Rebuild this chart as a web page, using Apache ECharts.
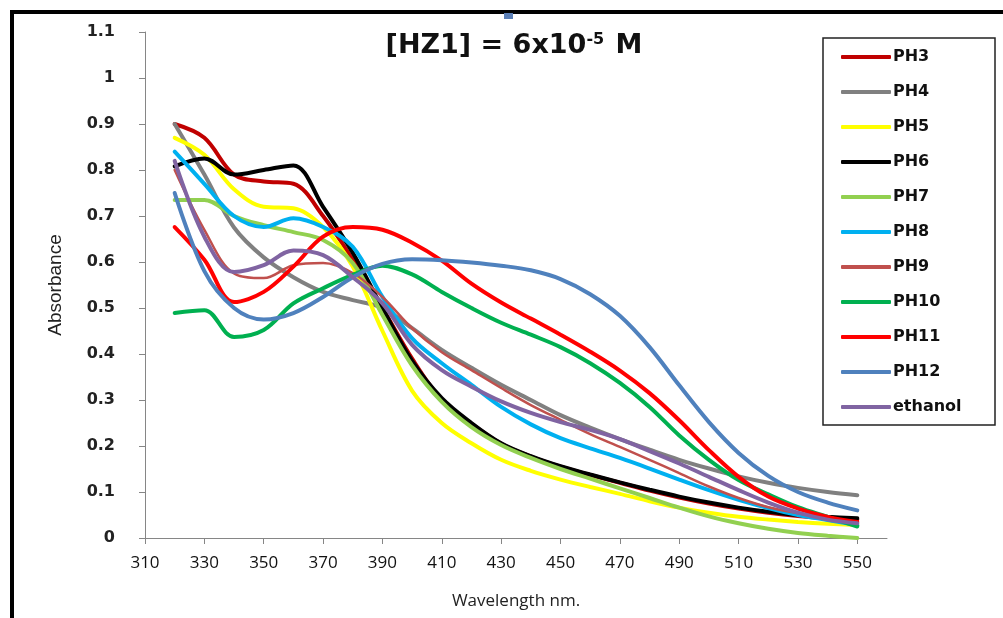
<!DOCTYPE html>
<html>
<head>
    <meta charset="utf-8">
    <title>HZ1 absorbance</title>
    <script src="https://cdn.jsdelivr.net/npm/echarts@6/dist/echarts.min.js"></script>
    <style>
        html, body { margin: 0; padding: 0; background: #fff; }
    </style>
</head>
<body>
    <div id="main" style="width: 1003px;height:618px;"></div>
    <script type="text/javascript">
        var myChart = echarts.init(document.getElementById('main'));

        // wavelengths (nm) where the curves are sampled
        var wavelength = [320, 330, 340, 350, 360, 370, 380, 390, 400, 410, 420, 430,
                          440, 450, 460, 470, 480, 490, 500, 510, 520, 530, 540, 550];
        var xTicks = [310, 330, 350, 370, 390, 410, 430, 450, 470, 490, 510, 530, 550];

        var ph3  = [0.90, 0.87, 0.79, 0.775, 0.77, 0.70, 0.605, 0.50, 0.39, 0.30, 0.248, 0.205,
                    0.177, 0.155, 0.137, 0.12, 0.103, 0.088, 0.075, 0.064, 0.055, 0.048, 0.043, 0.04];
        var ph4  = [0.90, 0.79, 0.675, 0.61, 0.567, 0.535, 0.517, 0.50, 0.456, 0.409, 0.37, 0.333,
                    0.30, 0.267, 0.24, 0.215, 0.192, 0.17, 0.151, 0.134, 0.12, 0.109, 0.10, 0.093];
        var ph5  = [0.87, 0.833, 0.758, 0.72, 0.717, 0.676, 0.59, 0.45, 0.32, 0.25, 0.206, 0.17,
                    0.146, 0.127, 0.111, 0.096, 0.08, 0.066, 0.055, 0.046, 0.04, 0.035, 0.031, 0.028];
        var ph6  = [0.808, 0.825, 0.79, 0.80, 0.81, 0.72, 0.62, 0.50, 0.385, 0.304, 0.25, 0.206,
                    0.178, 0.156, 0.138, 0.121, 0.105, 0.09, 0.077, 0.066, 0.057, 0.05, 0.046, 0.043];
        var ph7  = [0.735, 0.735, 0.70, 0.68, 0.665, 0.648, 0.598, 0.485, 0.375, 0.296, 0.241, 0.202,
                    0.174, 0.15, 0.129, 0.108, 0.087, 0.066, 0.047, 0.032, 0.02, 0.011, 0.005, 0.0];
        var ph8  = [0.84, 0.77, 0.70, 0.676, 0.695, 0.676, 0.633, 0.524, 0.434, 0.38, 0.333, 0.285,
                    0.247, 0.217, 0.195, 0.174, 0.151, 0.127, 0.104, 0.083, 0.065, 0.05, 0.039, 0.028];
        var ph9  = [0.80, 0.67, 0.575, 0.565, 0.593, 0.598, 0.576, 0.524, 0.456, 0.404, 0.365, 0.326,
                    0.289, 0.257, 0.226, 0.198, 0.17, 0.141, 0.112, 0.087, 0.067, 0.054, 0.043, 0.035];
        var ph10 = [0.489, 0.495, 0.437, 0.452, 0.51, 0.543, 0.572, 0.592, 0.573, 0.535, 0.50, 0.468,
                    0.442, 0.415, 0.38, 0.337, 0.285, 0.223, 0.17, 0.126, 0.095, 0.067, 0.046, 0.025];
        var ph11 = [0.676, 0.605, 0.513, 0.535, 0.59, 0.655, 0.676, 0.67, 0.642, 0.603, 0.553, 0.512,
                    0.477, 0.442, 0.405, 0.364, 0.315, 0.256, 0.191, 0.133, 0.09, 0.064, 0.046, 0.035];
        var ph12 = [0.75, 0.58, 0.50, 0.475, 0.489, 0.524, 0.567, 0.596, 0.606, 0.604, 0.599, 0.592,
                    0.582, 0.563, 0.53, 0.483, 0.415, 0.332, 0.252, 0.185, 0.135, 0.10, 0.077, 0.06];
        var ethanol = [0.82, 0.655, 0.578, 0.593, 0.625, 0.615, 0.567, 0.51, 0.42, 0.365, 0.329, 0.297,
                       0.272, 0.252, 0.235, 0.215, 0.189, 0.162, 0.133, 0.104, 0.077, 0.055, 0.04, 0.032];

        var seriesNames = ['PH3', 'PH4', 'PH5', 'PH6', 'PH7', 'PH8', 'PH9', 'PH10', 'PH11', 'PH12', 'ethanol'];
        var seriesValues = [ph3, ph4, ph5, ph6, ph7, ph8, ph9, ph10, ph11, ph12, ethanol];
        var colors = ['#C00000', '#808080', '#FFFF00', '#000000', '#92D050', '#00B0F0',
                      '#C0504D', '#00B050', '#FF0000', '#4F81BD', '#8064A2'];

        var series = seriesNames.map(function (name, k) {
            return {
                name: name,
                type: 'line',
                smooth: 0.35,
                symbol: 'none',
                data: wavelength.map(function (w, i) { return [w, seriesValues[k][i]]; }),
                lineStyle: { color: colors[k], width: name === 'PH9' ? 2.5 : 4, cap: 'round' },
                itemStyle: { color: colors[k] }
            };
        });

        var option = {
            animation: false,
            title: {
                text: '[HZ1] = 6x10{sup|-5} M',
                left: 509,
                top: 27,
                textAlign: 'center',
                textStyle: {
                    fontFamily: 'DejaVu Sans',
                    fontWeight: 'bold',
                    fontSize: 27,
                    color: '#111',
                    rich: {
                        sup: { fontFamily: 'DejaVu Sans', fontWeight: 'bold', fontSize: 16,
                               verticalAlign: 'top', padding: [0, 2, 8, 0], color: '#111' }
                    }
                }
            },
            legend: {
                orient: 'vertical',
                left: 836,
                top: 44,
                icon: 'roundRect',
                itemWidth: 50,
                itemHeight: 4,
                itemGap: 19,
                data: seriesNames,
                textStyle: { fontFamily: 'DejaVu Sans', fontWeight: 'bold', fontSize: 16, color: '#111',
                             lineHeight: 16, padding: [0, 0, 0, -3] }
            },
            grid: { left: 145, right: 116, top: 32, bottom: 80 },
            xAxis: {
                type: 'value',
                min: 310,
                max: 560,
                interval: 20,
                name: 'Wavelength nm.',
                nameLocation: 'middle',
                nameGap: 55,
                nameTextStyle: { fontFamily: 'Open Sans', fontSize: 17, color: '#222' },
                axisLine: { lineStyle: { color: '#868686', width: 1 } },
                axisTick: { customValues: xTicks, length: 6, lineStyle: { color: '#868686' } },
                axisLabel: { customValues: xTicks, margin: 17, fontFamily: 'Open Sans', fontSize: 17, color: '#111' },
                splitLine: { show: false }
            },
            yAxis: {
                type: 'value',
                min: 0,
                max: 1.1,
                interval: 0.1,
                name: 'Absorbance',
                nameLocation: 'middle',
                nameGap: 80,
                nameTextStyle: { fontFamily: 'Liberation Sans', fontSize: 19, color: '#222' },
                axisLine: { show: true, lineStyle: { color: '#868686', width: 1 } },
                axisTick: { show: true, length: 6, lineStyle: { color: '#868686' } },
                axisLabel: { margin: 30, fontFamily: 'DejaVu Sans', fontWeight: 'bold', fontSize: 16, color: '#222' },
                splitLine: { show: false }
            },
            graphic: [
                {   // outer frame
                    type: 'rect',
                    shape: { x: 12, y: 12, width: 1010, height: 700 },
                    style: { fill: 'none', stroke: '#000', lineWidth: 4 },
                    silent: true
                },
                {   // small blue mark on the frame
                    type: 'rect',
                    shape: { x: 504, y: 13, width: 9, height: 6 },
                    style: { fill: '#5A7EB5' },
                    silent: true
                },
                {   // legend box
                    type: 'rect',
                    shape: { x: 823, y: 38, width: 172, height: 387 },
                    style: { fill: 'none', stroke: '#222', lineWidth: 1.5 },
                    silent: true
                }
            ],
            series: series
        };

        myChart.setOption(option);
    </script>
</body>
</html>
